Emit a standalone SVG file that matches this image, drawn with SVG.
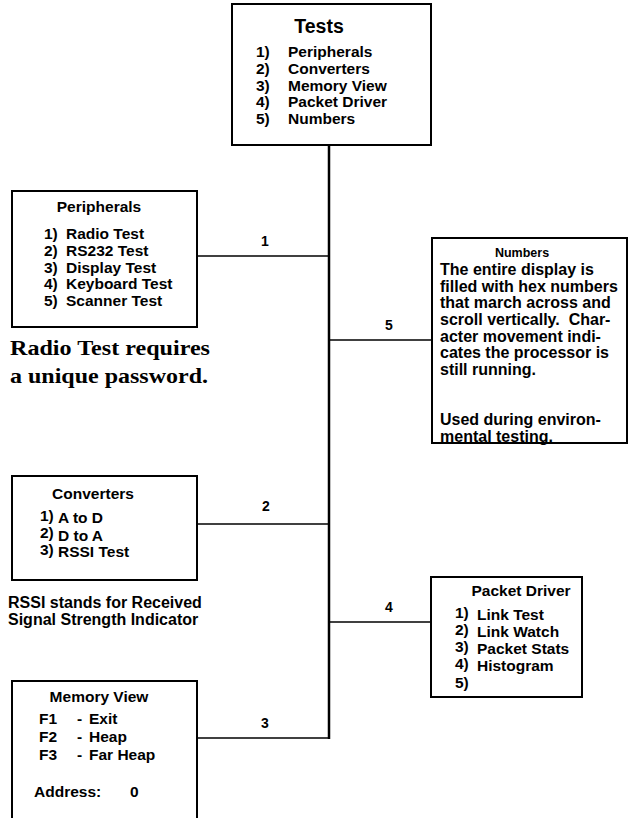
<svg xmlns="http://www.w3.org/2000/svg" width="628" height="818" viewBox="0 0 628 818">
  <style>
    .box { fill: #fff; stroke: #000; stroke-width: 2; }
    .edge { fill: none; stroke: #000; stroke-width: 1.5; }
    .trunk { fill: none; stroke: #000; stroke-width: 2.5; }
    text { font-family: "Liberation Sans", Arial, sans-serif; font-weight: bold; font-size: 15.5px; fill: #000; }
    .title { font-size: 15.5px; text-anchor: middle; }
    .big { font-size: 19.5px; }
    .small { font-size: 12.5px; }
    .body { font-size: 16px; }
    .note { font-size: 16px; }
    .num { font-size: 14px; text-anchor: middle; }
    .serif { font-family: "Liberation Serif", "Times New Roman", serif; font-size: 22px; }
  </style>

  <!-- connectors: main trunk and branches -->
  <g id="connectors">
    <line class="trunk" x1="329" y1="145" x2="329" y2="739"/>
    <line class="edge" x1="197" y1="256" x2="329" y2="256"/>
    <text class="num" x="265" y="246">1</text>
    <line class="edge" x1="329" y1="340" x2="432" y2="340"/>
    <text class="num" x="389" y="330">5</text>
    <line class="edge" x1="197" y1="524" x2="329" y2="524"/>
    <text class="num" x="266" y="511">2</text>
    <line class="edge" x1="329" y1="622" x2="431" y2="622"/>
    <text class="num" x="389" y="612">4</text>
    <line class="edge" x1="197" y1="738" x2="329" y2="738"/>
    <text class="num" x="265" y="728">3</text>
  </g>

  <!-- root menu -->
  <g id="tests">
    <rect class="box" x="232" y="4" width="199" height="141"/>
    <text class="title big" x="319" y="33">Tests</text>
    <text x="256" y="57">1)</text><text x="288" y="57">Peripherals</text>
    <text x="256" y="74">2)</text><text x="288" y="74">Converters</text>
    <text x="256" y="91">3)</text><text x="288" y="91">Memory View</text>
    <text x="256" y="107">4)</text><text x="288" y="107">Packet Driver</text>
    <text x="256" y="124">5)</text><text x="288" y="124">Numbers</text>
  </g>

  <g id="peripherals">
    <rect class="box" x="12" y="191" width="185" height="136"/>
    <text class="title" x="99" y="212">Peripherals</text>
    <text x="44" y="239">1)</text><text x="66" y="239">Radio Test</text>
    <text x="44" y="256">2)</text><text x="66" y="256">RS232 Test</text>
    <text x="44" y="273">3)</text><text x="66" y="273">Display Test</text>
    <text x="44" y="289">4)</text><text x="66" y="289">Keyboard Test</text>
    <text x="44" y="306">5)</text><text x="66" y="306">Scanner Test</text>
  </g>

  <g id="radio-note">
    <text class="serif" x="10" y="355" textLength="200" lengthAdjust="spacingAndGlyphs">Radio Test requires</text>
    <text class="serif" x="10" y="383" textLength="198" lengthAdjust="spacingAndGlyphs">a unique password.</text>
  </g>

  <g id="numbers">
    <rect class="box" x="432" y="238" width="195" height="205"/>
    <text class="title small" x="522" y="257">Numbers</text>
    <text class="body" x="440" y="275">The entire display is</text>
    <text class="body" x="440" y="292">filled with hex numbers</text>
    <text class="body" x="440" y="308">that march across and</text>
    <text class="body" x="440" y="325" xml:space="preserve">scroll vertically.  Char-</text>
    <text class="body" x="440" y="342">acter movement indi-</text>
    <text class="body" x="440" y="358">cates the processor is</text>
    <text class="body" x="440" y="375">still running.</text>
    <text class="body" x="440" y="425">Used during environ-</text>
    <text class="body" x="440" y="442">mental testing.</text>
  </g>

  <g id="converters">
    <rect class="box" x="12" y="476" width="185" height="104"/>
    <text class="title" x="93" y="499">Converters</text>
    <text x="40" y="521">1)</text><text x="58" y="523">A to D</text>
    <text x="40" y="538">2)</text><text x="58" y="541">D to A</text>
    <text x="40" y="555">3)</text><text x="58" y="557">RSSI Test</text>
  </g>

  <g id="rssi-note">
    <text class="note" x="8" y="608">RSSI stands for Received</text>
    <text class="note" x="8" y="625">Signal Strength Indicator</text>
  </g>

  <g id="packet-driver">
    <rect class="box" x="431" y="577" width="151" height="120"/>
    <text class="title" x="521" y="596">Packet Driver</text>
    <text x="455" y="618">1)</text><text x="477" y="620">Link Test</text>
    <text x="455" y="635">2)</text><text x="477" y="637">Link Watch</text>
    <text x="455" y="652">3)</text><text x="477" y="654">Packet Stats</text>
    <text x="455" y="669">4)</text><text x="477" y="671">Histogram</text>
    <text x="455" y="688">5)</text>
  </g>

  <g id="memory-view">
    <path class="box" d="M12 818 V681 H197 V818"/>
    <text class="title" x="99" y="702">Memory View</text>
    <text x="39" y="724">F1</text><text x="77" y="724">-</text><text x="89" y="724">Exit</text>
    <text x="39" y="742">F2</text><text x="77" y="742">-</text><text x="89" y="742">Heap</text>
    <text x="39" y="760">F3</text><text x="77" y="760">-</text><text x="89" y="760">Far Heap</text>
    <text x="34" y="797">Address:</text><text x="130" y="797">0</text>
  </g>
</svg>
